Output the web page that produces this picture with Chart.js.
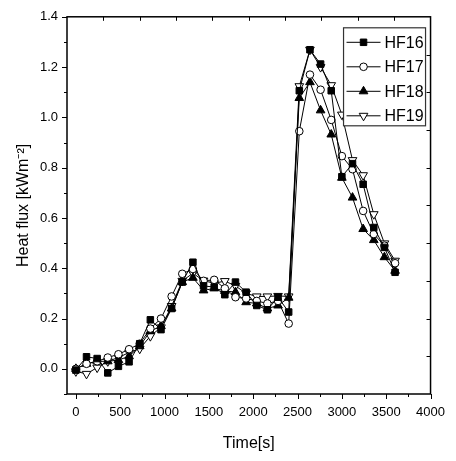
<!DOCTYPE html>
<html>
<head>
<meta charset="utf-8">
<script src="https://cdn.jsdelivr.net/npm/chart.js@4"></script>
<style>
  html, body { margin: 0; padding: 0; background: #fff; }
</style>
</head>
<body>
<canvas id="fluxChart" width="456" height="461"></canvas>
<script>
const times = [0, 120, 240, 360, 480, 600, 720, 840, 960, 1080, 1200, 1320, 1440, 1560, 1680, 1800,
  1920, 2040, 2160, 2280, 2400, 2520, 2640, 2760, 2880, 3000, 3120, 3240, 3360, 3480, 3600];

const hf16 = [-0.005, 0.048, 0.041, -0.016, 0.01, 0.028, 0.10, 0.195, 0.156, 0.24, 0.345, 0.424, 0.33, 0.325, 0.295, 0.345,
  0.305, 0.252, 0.235, 0.285, 0.226, 1.106, 1.269, 1.212, 1.106, 0.764, 0.816, 0.734, 0.562, 0.483, 0.384];
const hf17 = [0.0, 0.02, 0.03, 0.045, 0.058, 0.078, 0.10, 0.16, 0.2, 0.288, 0.378, 0.397, 0.35, 0.354, 0.32, 0.285,
  0.28, 0.27, 0.26, 0.27, 0.18, 0.945, 1.17, 1.11, 0.99, 0.846, 0.794, 0.628, 0.536, 0.49, 0.42];
const hf18 = [0.0, 0.02, 0.03, 0.03, 0.035, 0.05, 0.09, 0.15, 0.17, 0.24, 0.345, 0.362, 0.312, 0.32, 0.31, 0.305,
  0.265, 0.26, 0.24, 0.252, 0.283, 1.077, 1.14, 1.028, 0.932, 0.76, 0.681, 0.556, 0.512, 0.444, 0.39];
const hf19 = [-0.01, -0.02, 0.005, 0.03, 0.045, 0.065, 0.08, 0.13, 0.165, 0.25, 0.35, 0.38, 0.351, 0.34, 0.349, 0.33,
  0.3, 0.288, 0.288, 0.29, 0.288, 1.124, 1.269, 1.2, 1.128, 1.011, 0.83, 0.77, 0.615, 0.499, 0.43];

const seriesNames = ["HF16", "HF17", "HF18", "HF19"];

Chart.defaults.font.family = "'Liberation Sans', Arial, sans-serif";
Chart.defaults.color = "#000";

function series(label, values, style, fill, radius, rotation) {
    return {
        label: label,
        data: times.map((t, i) => ({ x: t, y: values[i] })),
        borderColor: "#000",
        borderWidth: 1,
        pointStyle: style,
        pointRadius: radius,
        pointRotation: rotation || 0,
        pointBackgroundColor: fill,
        pointBorderColor: "#000",
        pointBorderWidth: 1,
        fill: false,
        tension: 0
    };
}

// box round the plot, Origin-like ticks, and the legend box
const framePlugin = {
    id: "frame",
    afterDraw(chart) {
        const ctx = chart.ctx;
        const { left, right, top, bottom } = chart.chartArea;
        const xs = chart.scales.x, ys = chart.scales.y;
        ctx.save();
        ctx.strokeStyle = "#000";
        ctx.lineWidth = 1;
        ctx.beginPath();
        xs.ticks.forEach(t => {
            const px = Math.round(xs.getPixelForValue(t.value)) + 0.5;
            const len = t.value % 500 === 0 ? 5 : 3;
            ctx.moveTo(px, bottom); ctx.lineTo(px, bottom + len);
        });
        ys.ticks.forEach(t => {
            const py = Math.round(ys.getPixelForValue(t.value)) + 0.5;
            const major = Math.abs(t.value * 5 - Math.round(t.value * 5)) < 1e-6;
            ctx.moveTo(left, py); ctx.lineTo(left - (major ? 5 : 3), py);
        });
        // top and right: ten divisions, inward
        for (let i = 1; i < 10; i++) {
            const px = Math.round(xs.getPixelForValue(xs.min + i * (xs.max - xs.min) / 10)) + 0.5;
            ctx.moveTo(px, top); ctx.lineTo(px, top + 4);
            const py = Math.round(ys.getPixelForValue(ys.min + i * (ys.max - ys.min) / 10)) + 0.5;
            ctx.moveTo(right, py); ctx.lineTo(right - 4, py);
        }
        ctx.stroke();
        ctx.lineWidth = 1.5;
        ctx.strokeRect(left, top, right - left, bottom - top);

        // legend
        const bx = right - 87, by = top + 11, bw = 82, bh = 98;
        ctx.fillStyle = "#fff";
        ctx.fillRect(bx, by, bw, bh);
        ctx.strokeStyle = "#333";
        ctx.lineWidth = 1.2;
        ctx.strokeRect(bx, by, bw, bh);
        ctx.font = "16px 'Liberation Sans', Arial, sans-serif";
        ctx.textBaseline = "middle";
        ctx.fillStyle = "#000";
        chart.data.datasets.forEach((ds, i) => {
            const y = by + 14.5 + i * 24.5;
            ctx.strokeStyle = "#000";
            ctx.lineWidth = 1;
            ctx.beginPath();
            ctx.moveTo(bx + 3, y); ctx.lineTo(bx + 37, y);
            ctx.stroke();
            ctx.fillStyle = ds.pointBackgroundColor;
            ctx.strokeStyle = "#000";
            Chart.helpers.drawPoint(ctx, {
                pointStyle: ds.pointStyle, radius: ds.pointRadius,
                rotation: ds.pointRotation, borderWidth: 1
            }, bx + 20, y);
            ctx.fillStyle = "#000";
            ctx.fillText(seriesNames[i], bx + 41, y + 1);
        });
        ctx.restore();
    }
};

new Chart(document.getElementById("fluxChart"), {
    type: "line",
    data: {
        datasets: [
            series(seriesNames[0], hf16, "rect", "#000", 4.6),
            series(seriesNames[1], hf17, "circle", "#fff", 3.8),
            series(seriesNames[2], hf18, "triangle", "#000", 5),
            series(seriesNames[3], hf19, "triangle", "#fff", 5, 180)
        ]
    },
    options: {
        responsive: false,
        animation: false,
        layout: { padding: { top: 15, right: 20, bottom: 0, left: 0 } },
        plugins: { legend: { display: false }, tooltip: { enabled: false } },
        scales: {
            x: {
                type: "linear",
                min: -100,
                max: 4000,
                grid: { display: false, drawTicks: false },
                border: { display: false },
                ticks: {
                    stepSize: 250,
                    includeBounds: false,
                    autoSkip: false,
                    maxRotation: 0,
                    padding: 11,
                    font: { size: 13 },
                    callback: v => (v % 500 === 0 ? String(v) : "")
                },
                title: { display: true, text: "Time[s]", font: { size: 16 }, padding: { top: 0, bottom: 8 } },
                afterFit: s => { s.height = 67; }
            },
            y: {
                min: -0.1,
                max: 1.4,
                grid: { display: false, drawTicks: false },
                border: { display: false },
                ticks: {
                    stepSize: 0.1,
                    autoSkip: false,
                    padding: 9,
                    font: { size: 13 },
                    callback: v => (Math.abs(v * 5 - Math.round(v * 5)) < 1e-6 ? v.toFixed(1) : "")
                },
                title: { display: true, text: "Heat flux [kWm⁻²]", font: { size: 16 }, padding: { top: 14, bottom: 4 } },
                afterFit: s => { s.width = 67; }
            }
        }
    },
    plugins: [framePlugin]
});
</script>
</body>
</html>
